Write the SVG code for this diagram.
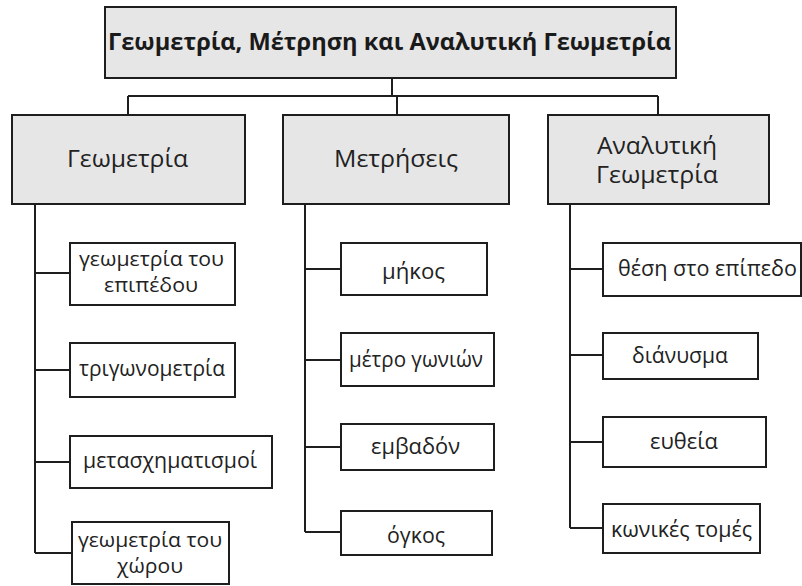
<svg xmlns="http://www.w3.org/2000/svg" width="802" height="586" viewBox="0 0 802 586">
<style>
.bg{fill:#ffffff}
.hd{fill:#e6e6e6;stroke:#1e1e1e;stroke-width:2}
.bx{fill:#ffffff;stroke:#1e1e1e;stroke-width:2}
.ln{fill:none;stroke:#1e1e1e;stroke-width:2}
text{font-family:"Open Sans","Noto Sans","DejaVu Sans",sans-serif;fill:#1a1a1a}
.t0{font-size:23px;font-weight:bold}
.t1{font-size:23px;fill:#222}
.t2{font-size:21.5px;fill:#222}
.t3{font-size:20px;fill:#222}
</style>
<rect class="bg" x="0" y="0" width="802" height="586"/>
<g id="connectors">
<path class="ln" d="M392,78 V96 M128,96 H658 M128,96 V115 M397,96 V115 M658,96 V115"/>
<path class="ln" d="M35,204 V553 M35,273 H70 M35,370 H70 M35,462 H70 M35,553 H72"/>
<path class="ln" d="M305,204 V532 M305,269 H341 M305,360 H341 M305,447 H341 M305,532 H341"/>
<path class="ln" d="M570,204 V528 M570,269 H603 M570,355 H603 M570,442 H603 M570,528 H603"/>
</g>
<g id="root">
<rect class="hd" x="105" y="7" width="571" height="71"/>
<text class="t0" x="108" y="50" textLength="563" lengthAdjust="spacingAndGlyphs">Γεωμετρία, Μέτρηση και Αναλυτική Γεωμετρία</text>
</g>
<g id="geometria">
<rect class="hd" x="12" y="115" width="233" height="89"/>
<text class="t1" x="67" y="167" textLength="121" lengthAdjust="spacingAndGlyphs">Γεωμετρία</text>
</g>
<g id="metriseis">
<rect class="hd" x="283" y="115" width="226" height="89"/>
<text class="t1" x="334" y="167" textLength="124" lengthAdjust="spacingAndGlyphs">Μετρήσεις</text>
</g>
<g id="analytiki">
<rect class="hd" x="548" y="115" width="221" height="89"/>
<text class="t1"><tspan x="597" y="154" textLength="120" lengthAdjust="spacingAndGlyphs">Αναλυτική</tspan><tspan x="596" y="183" textLength="122" lengthAdjust="spacingAndGlyphs">Γεωμετρία</tspan></text>
</g>
<g id="geom-epipedou">
<rect class="bx" x="70" y="243" width="165" height="62"/>
<text class="t3"><tspan x="79" y="266" textLength="145" lengthAdjust="spacingAndGlyphs">γεωμετρία του</tspan><tspan x="104" y="292" textLength="94" lengthAdjust="spacingAndGlyphs">επιπέδου</tspan></text>
</g>
<g id="trigonometria">
<rect class="bx" x="70" y="343" width="165" height="54"/>
<text class="t2" x="79" y="376" textLength="146" lengthAdjust="spacingAndGlyphs">τριγωνομετρία</text>
</g>
<g id="metasximatismoi">
<rect class="bx" x="70" y="436" width="202" height="52"/>
<text class="t2" x="83" y="468" textLength="174" lengthAdjust="spacingAndGlyphs">μετασχηματισμοί</text>
</g>
<g id="geom-xorou">
<rect class="bx" x="72" y="522" width="157" height="62"/>
<text class="t3"><tspan x="78" y="547" textLength="144" lengthAdjust="spacingAndGlyphs">γεωμετρία του</tspan><tspan x="117" y="573" textLength="66" lengthAdjust="spacingAndGlyphs">χώρου</tspan></text>
</g>
<g id="mikos">
<rect class="bx" x="341" y="243" width="146" height="52"/>
<text class="t2" x="382" y="279" textLength="63" lengthAdjust="spacingAndGlyphs">μήκος</text>
</g>
<g id="metro-gonion">
<rect class="bx" x="341" y="333" width="153" height="53"/>
<text class="t2" x="349" y="367" textLength="134" lengthAdjust="spacingAndGlyphs">μέτρο γωνιών</text>
</g>
<g id="emvadon">
<rect class="bx" x="341" y="424" width="153" height="46"/>
<text class="t2" x="371" y="454" textLength="89" lengthAdjust="spacingAndGlyphs">εμβαδόν</text>
</g>
<g id="ogkos">
<rect class="bx" x="341" y="511" width="151" height="44"/>
<text class="t2" x="387" y="543" textLength="58" lengthAdjust="spacingAndGlyphs">όγκος</text>
</g>
<g id="thesi">
<rect class="bx" x="603" y="243" width="198" height="53"/>
<text class="t2" x="618" y="276" textLength="179" lengthAdjust="spacingAndGlyphs">θέση στο επίπεδο</text>
</g>
<g id="dianysma">
<rect class="bx" x="603" y="333" width="155" height="46"/>
<text class="t2" x="632" y="363" textLength="96" lengthAdjust="spacingAndGlyphs">διάνυσμα</text>
</g>
<g id="eytheia">
<rect class="bx" x="603" y="417" width="163" height="50"/>
<text class="t2" x="650" y="449" textLength="68" lengthAdjust="spacingAndGlyphs">ευθεία</text>
</g>
<g id="konikes">
<rect class="bx" x="603" y="504" width="157" height="49"/>
<text class="t2" x="611" y="537" textLength="141" lengthAdjust="spacingAndGlyphs">κωνικές τομές</text>
</g>
</svg>
